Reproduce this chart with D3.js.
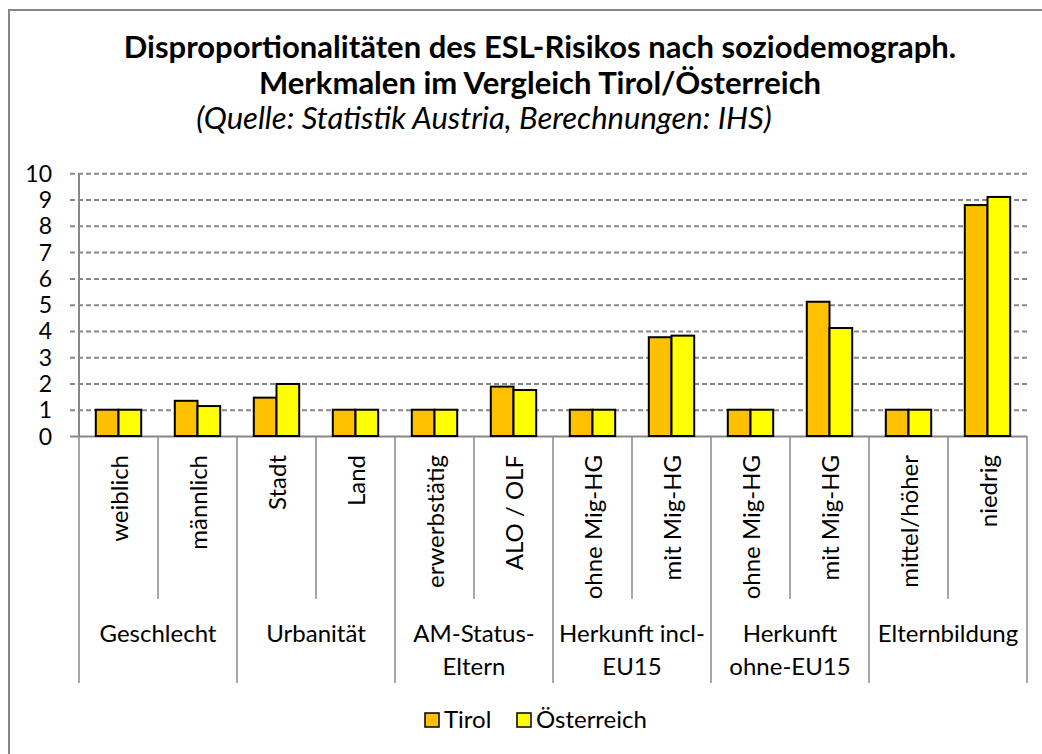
<!DOCTYPE html>
<meta charset="utf-8">
<title>ESL-Risiko Tirol/Österreich</title>
<style>
  body { margin: 0; background: #fff; }
  text { font-family: Lato, "Open Sans", sans-serif; fill: #000; }
</style>
<body>
<script src="https://d3js.org/d3.v7.min.js"></script>
<script>

// data
const categories = ["weiblich", "männlich", "Stadt", "Land", "erwerbstätig", "ALO / OLF",
  "ohne Mig-HG", "mit Mig-HG", "ohne Mig-HG", "mit Mig-HG", "mittel/höher", "niedrig"];
const groups = [["Geschlecht"], ["Urbanität"], ["AM-Status-", "Eltern"],
  ["Herkunft incl-", "EU15"], ["Herkunft", "ohne-EU15"], ["Elternbildung"]];
const tirol = [1, 1.34, 1.46, 1, 1, 1.88, 1, 3.76, 1, 5.11, 1, 8.79];
const oesterreich = [1, 1.14, 1.98, 1, 1, 1.75, 1, 3.82, 1, 4.11, 1, 9.10];
const series = ["Tirol", "Österreich"];
const colors = ["#FFC000", "#FFFF00"];
const yTicks = [0, 1, 2, 3, 4, 5, 6, 7, 8, 9, 10];

var width = 1042,
  height = 754,
  plotLeft = 79,
  plotRight = 1027,
  plotTop = 173.3,
  plotBottom = 436;

var svg = d3.select("body").append("svg")
    .attr("width", width)
    .attr("height", height);

// chart frame (runs off the right and bottom edge)
svg.append("rect")
  .attr("x", 9).attr("y", 10)
  .attr("width", 1100).attr("height", 800)
  .style("fill", "#fff")
  .style("stroke", "#868686")
  .style("stroke-width", 2);

// titles
svg.append("text")
  .attr("x", 540).attr("y", 58)
  .attr("text-anchor", "middle")
  .style("font-weight", "bold").style("font-size", "31px")
  .text("Disproportionalitäten des ESL-Risikos nach soziodemograph.");
svg.append("text")
  .attr("x", 540).attr("y", 94)
  .attr("text-anchor", "middle")
  .style("font-weight", "bold").style("font-size", "31px")
  .text("Merkmalen im Vergleich Tirol/Österreich");
svg.append("text")
  .attr("x", 484).attr("y", 129)
  .attr("text-anchor", "middle")
  .style("font-style", "italic").style("font-size", "31px")
  .text("(Quelle: Statistik Austria, Berechnungen: IHS)");

var x = d3.scaleBand()
  .domain(d3.range(categories.length))
  .range([plotLeft, plotRight]);

var xSub = d3.scaleBand()
  .domain(series)
  .range([0, x.bandwidth()])
  .paddingOuter(0.74);

var y = d3.scaleLinear()
  .domain([0, 10])
  .range([plotBottom, plotTop]);

// gridlines + y labels
var yAxis = svg.append("g")
  .attr("transform", "translate(" + plotRight + ",0)")
  .call(d3.axisLeft(y).tickValues(yTicks).tickSize(plotRight - 70).tickFormat(d3.format("d")).tickPadding(18));
yAxis.select(".domain").remove();
yAxis.selectAll(".tick line")
  .style("stroke", "#888")
  .style("stroke-width", 2)
  .style("stroke-dasharray", d => d === 0 ? null : "5,3");
yAxis.selectAll(".tick text")
  .style("font-size", "23px")
  .style("font-family", "Lato, sans-serif")
  .style("fill", "#000")
  .attr("dy", "0.35em");

// vertical axis line
svg.append("line")
  .attr("x1", plotLeft).attr("x2", plotLeft)
  .attr("y1", plotTop).attr("y2", plotBottom)
  .style("stroke", "#888").style("stroke-width", 2);

// bars
var data = categories.map((c, i) => ({ i: i, values: [tirol[i], oesterreich[i]] }));
var cat = svg.selectAll("g.cat")
    .data(data)
  .enter().append("g")
    .attr("class", "cat")
    .attr("transform", d => "translate(" + x(d.i) + ",0)");

cat.selectAll("rect")
    .data(d => d.values.map((v, k) => ({ key: series[k], value: v, color: colors[k] })))
  .enter().append("rect")
    .attr("x", d => xSub(d.key))
    .attr("width", xSub.bandwidth())
    .attr("y", d => y(d.value))
    .attr("height", d => y(0) - y(d.value))
    .style("fill", d => d.color)
    .style("stroke", "#000")
    .style("stroke-width", 2);

// category separators: short inside a group, long between groups
var bounds = d3.range(categories.length + 1);
svg.selectAll("line.sep")
    .data(bounds)
  .enter().append("line")
    .attr("class", "sep")
    .attr("x1", d => plotLeft + d * x.step())
    .attr("x2", d => plotLeft + d * x.step())
    .attr("y1", plotBottom)
    .attr("y2", d => d % 2 === 0 ? 683 : 599)
    .style("stroke", "#888")
    .style("stroke-width", 1.5);

// rotated category labels
svg.selectAll("text.cat")
    .data(categories)
  .enter().append("text")
    .attr("class", "cat")
    .attr("text-anchor", "end")
    .attr("transform", (d, i) => "translate(" + (x(i) + x.bandwidth() / 2 + 9) + ",455) rotate(-90)")
    .style("font-size", "24px")
    .text(d => d);

// group labels
var grp = svg.selectAll("text.grp")
    .data(groups)
  .enter().append("text")
    .attr("class", "grp")
    .attr("text-anchor", "middle")
    .attr("x", (d, i) => plotLeft + (2 * i + 1) * x.step())
    .attr("y", 642)
    .style("font-size", "24px");
grp.selectAll("tspan")
    .data(d => d)
  .enter().append("tspan")
    .attr("x", function() { return d3.select(this.parentNode).attr("x"); })
    .attr("dy", (d, i) => i === 0 ? 0 : 33)
    .text(d => d);

// legend
var legendX = [425, 517];
var legend = svg.selectAll("g.legend")
    .data(series)
  .enter().append("g")
    .attr("class", "legend")
    .attr("transform", (d, i) => "translate(" + legendX[i] + ",713)");
legend.append("rect")
  .attr("width", 14).attr("height", 14)
  .style("fill", (d, i) => colors[i])
  .style("stroke", "#000").style("stroke-width", 1.5);
legend.append("text")
  .attr("x", 19).attr("y", 15)
  .style("font-size", "24px")
  .text(d => d);

</script>
